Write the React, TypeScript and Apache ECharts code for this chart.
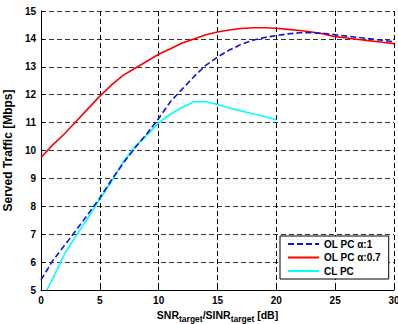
import React, { useEffect, useRef } from "react";
import * as echarts from "echarts";

const xValues = [0, 1, 2, 3, 4, 5, 6, 7, 8, 9, 10, 11, 12, 13, 14, 15, 16, 17, 18, 19, 20, 21, 22, 23, 24, 25, 26, 27, 28, 29, 30];
const olPcAlpha1 = [5.36, 6.05, 6.6, 7.15, 7.72, 8.3, 8.95, 9.55, 10.1, 10.6, 11.15, 11.75, 12.2, 12.65, 13.05, 13.35, 13.6, 13.8, 13.95, 14.05, 14.12, 14.18, 14.22, 14.22, 14.2, 14.15, 14.1, 14.05, 14.0, 13.95, 13.9];
const olPcAlpha07 = [9.75, 10.2, 10.6, 11.05, 11.5, 11.95, 12.35, 12.7, 12.95, 13.2, 13.45, 13.65, 13.85, 14.0, 14.15, 14.25, 14.32, 14.37, 14.4, 14.4, 14.38, 14.34, 14.3, 14.25, 14.18, 14.08, 14.03, 13.98, 13.93, 13.88, 13.83];
const clPcX = [0.5, 1, 2, 3, 4, 5, 6, 7, 8, 9, 10, 11, 12, 13, 14, 15, 16, 17, 18, 19, 20];
const clPc = [5.0, 5.4, 6.3, 6.95, 7.6, 8.25, 8.9, 9.6, 10.15, 10.55, 11.0, 11.3, 11.55, 11.75, 11.75, 11.65, 11.52, 11.42, 11.32, 11.22, 11.1];
const seriesNames = ["OL PC \u03b1:1", "OL PC \u03b1:0.7", "CL PC"];

const FONT = "'Liberation Sans', Arial, Helvetica, sans-serif";

export default function App() {
  const ref = useRef<HTMLDivElement>(null);
  useEffect(() => {
    document.body.style.margin = "0";
    const chart = echarts.init(ref.current!, null, { renderer: "svg" });
    const pair = (xs: number[], ys: number[]) => xs.map((x, i) => [x, ys[i]]);
    chart.setOption({
      animation: false,
      backgroundColor: "#ffffff",
      textStyle: { fontFamily: FONT },
      grid: { left: 41, top: 11, right: 4, bottom: 34, containLabel: false, outerBoundsMode: "none" },
      legend: {
        orient: "vertical",
        left: 280,
        top: 236,
        backgroundColor: "#ffffff",
        borderColor: "#000000",
        borderWidth: 1,
        borderRadius: 0,
        padding: [3, 8, 3, 7],
        itemWidth: 31,
        itemHeight: 12,
        itemGap: 3.5,
        itemStyle: { opacity: 0 },
        textStyle: { fontFamily: FONT, fontWeight: "bold", fontSize: 10, color: "#000" },
        data: seriesNames,
      },
      xAxis: {
        type: "value",
        min: 0,
        max: 30,
        interval: 5,
        name: "{m|SNR}{s|target}{m|/SINR}{s|target}{m| [dB]}",
        nameLocation: "middle",
        nameGap: 15,
        nameTextStyle: {
          rich: {
            m: { fontFamily: FONT, fontWeight: "bold", fontSize: 10.5, lineHeight: 16, verticalAlign: "top", color: "#000" },
            s: { fontFamily: FONT, fontWeight: "bold", fontSize: 8.5, lineHeight: 16, verticalAlign: "top", padding: [5, 0, 0, 0], color: "#000" },
          },
        },
        axisLine: { show: true, onZero: false, lineStyle: { color: "#000", width: 1 } },
        axisTick: { show: true, inside: true, length: 3, lineStyle: { color: "#000" } },
        axisLabel: { fontFamily: FONT, fontWeight: "bold", fontSize: 10, color: "#000", margin: 5 },
        splitLine: { show: true, lineStyle: { color: "#000", width: 1, type: [5, 3] } },
      },
      yAxis: {
        type: "value",
        min: 5,
        max: 15,
        interval: 1,
        name: "Served Traffic [Mbps]",
        nameLocation: "middle",
        nameGap: 22,
        nameTextStyle: { fontFamily: FONT, fontWeight: "bold", fontSize: 12, color: "#000" },
        axisLine: { show: true, onZero: false, lineStyle: { color: "#000", width: 1 } },
        axisTick: { show: true, inside: true, length: 3, lineStyle: { color: "#000" } },
        axisLabel: { fontFamily: FONT, fontWeight: "bold", fontSize: 10, color: "#000", margin: 5 },
        splitLine: { show: true, lineStyle: { color: "#333", width: 1, type: [5, 3] } },
      },
      series: [
        {
          name: seriesNames[0],
          type: "line",
          symbol: "none",
          data: pair(xValues, olPcAlpha1),
          lineStyle: { color: "#1010f0", width: 1.6, type: [6, 3] },
          itemStyle: { color: "#1010f0" },
          z: 3,
        },
        {
          name: seriesNames[1],
          type: "line",
          symbol: "none",
          data: pair(xValues, olPcAlpha07),
          lineStyle: { color: "#ff0000", width: 1.6 },
          itemStyle: { color: "#ff0000" },
          z: 2,
        },
        {
          name: seriesNames[2],
          type: "line",
          symbol: "none",
          data: pair(clPcX, clPc),
          lineStyle: { color: "#00ffff", width: 1.6 },
          itemStyle: { color: "#00ffff" },
          z: 2,
        },
      ],
    });
    return () => chart.dispose();
  }, []);
  return <div ref={ref} style={{ width: 398, height: 324 }} />;
}
